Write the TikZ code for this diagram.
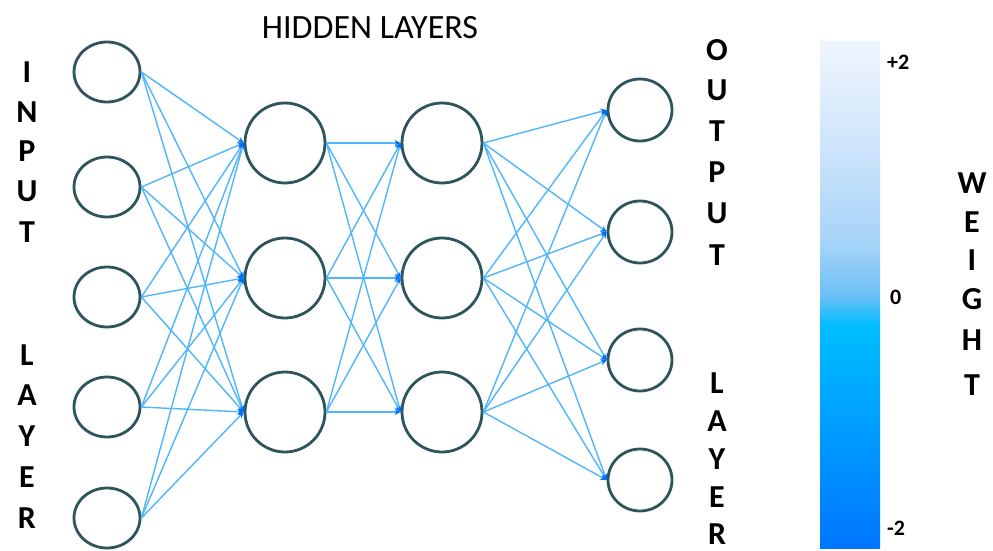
\documentclass[tikz,border=0pt]{standalone}
\usepackage{fontspec}
\setmainfont{Carlito}
\usetikzlibrary{shapes.geometric,arrows.meta}
\definecolor{edgeblue}{RGB}{80,182,252}
\definecolor{tipblue}{RGB}{0,110,245}
\definecolor{ringcol}{RGB}{45,85,90}
\definecolor{cbA}{RGB}{0,118,255}
\definecolor{cbB}{RGB}{0,190,255}
\definecolor{cbC}{RGB}{110,192,246}
\definecolor{cbD}{RGB}{165,211,248}
\definecolor{cbE}{RGB}{208,229,251}
\definecolor{cbF}{RGB}{238,245,253}
\pgfdeclareverticalshading{wbar}{100bp}{color(0bp)=(cbA); color(25bp)=(cbA); color(47bp)=(cbB); color(50bp)=(cbC); color(55bp)=(cbD); color(65bp)=(cbE); color(75bp)=(cbF); color(100bp)=(cbF)}
\tikzset{
  neuron/.style={ellipse, draw=ringcol, line width=2.8pt, fill=white, inner sep=0pt},
  inneuron/.style={neuron, minimum width=66pt, minimum height=60pt},
  hidneuron/.style={neuron, minimum width=80pt, minimum height=80pt},
  outneuron/.style={neuron, minimum width=64pt, minimum height=62pt},
  link/.style={draw=edgeblue, line width=1.4pt, -{Stealth[length=6pt,width=6pt,color=tipblue]}},
  vlet/.style={font=\fontsize{32}{32}\selectfont\bfseries, text=black, inner sep=0pt},
  tick/.style={font=\fontsize{22}{22}\selectfont\bfseries, text=black, inner sep=0pt, anchor=west},
}
\begin{document}
\begin{tikzpicture}[x=1pt,y=-1pt]
\useasboundingbox (0,0) rectangle (993,551);
\fill[white] (0,0) rectangle (993,551);
% colour bar
\shade[shading=wbar] (820,42) rectangle (880,548);
\node[tick] (tp) at (887,62) {+2};
\node[tick] (tz) at (890,297) {0};
\node[tick] (tm) at (887,528) {-2};
% nodes
\foreach \i/\y in {1/72,2/187,3/297,4/407,5/518} \node[inneuron] (i\i) at (107,\y) {};
\foreach \i/\y in {1/143,2/278,3/412} {
  \node[hidneuron] (a\i) at (285,\y) {};
  \node[hidneuron] (b\i) at (442,\y) {};
}
\foreach \i/\y in {1/110,2/232,3/360,4/480} \node[outneuron] (o\i) at (640,\y) {};
% connections
\foreach \s in {1,...,5} \foreach \t in {1,2,3} \draw[link] (i\s.east) -- (a\t.west);
\foreach \s in {1,2,3} \foreach \t in {1,2,3} \draw[link] (a\s.east) -- (b\t.west);
\foreach \s in {1,2,3} \foreach \t in {1,...,4} \draw[link] (b\s.east) -- (o\t.west);
% labels
\node[font=\fontsize{34}{34}\selectfont, inner sep=0pt] (hl) at (370,28) {HIDDEN LAYERS};
\foreach \l/\y [count=\k] in {I/72,N/112,P/151,U/191,T/232,L/355,A/395,Y/436,E/477,R/518}
  \node[vlet] (il\k) at (27,\y) {\l};
\foreach \l/\y [count=\k] in {O/50,U/90,T/131,P/172,U/213,T/255,L/383,A/421,Y/459,E/497,R/534}
  \node[vlet] (ol\k) at (717,\y) {\l};
\foreach \l/\y [count=\k] in {W/183,E/222,I/260,G/299,H/340,T/385}
  \node[vlet] (wl\k) at (972,\y) {\l};
\end{tikzpicture}
\end{document}
